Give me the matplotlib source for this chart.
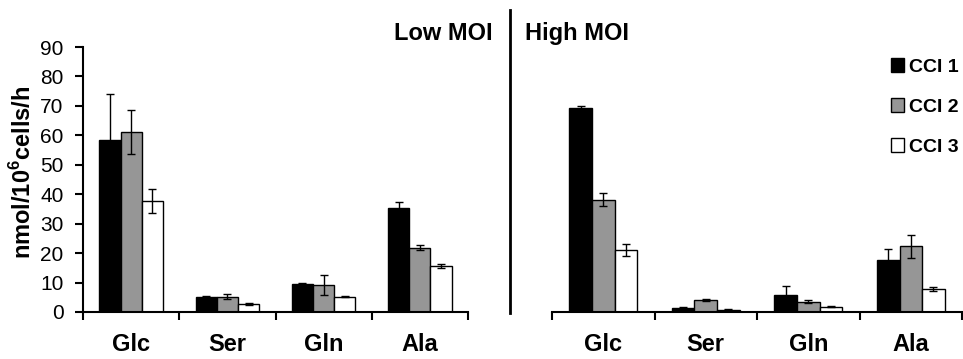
import numpy as np
import matplotlib
matplotlib.use('Agg')
import matplotlib.pyplot as plt
from matplotlib.lines import Line2D
from matplotlib.patches import Patch

plt.rcParams['font.family'] = ['Liberation Sans', 'DejaVu Sans']
plt.rcParams['mathtext.fontset'] = 'custom'
plt.rcParams['mathtext.rm'] = 'Liberation Sans'
plt.rcParams['mathtext.bf'] = 'Liberation Sans:bold'

# DATA
categories = ["Glc", "Ser", "Gln", "Ala"]
series = ["CCI 1", "CCI 2", "CCI 3"]

low_cci1 = [58.3, 5.0, 9.6, 35.4]
low_cci2 = [61.2, 5.2, 9.2, 21.9]
low_cci3 = [37.6, 2.7, 5.2, 15.6]
low_err1 = [15.9, 0.3, 0.2, 1.9]
low_err2 = [7.4, 0.8, 3.5, 0.8]
low_err3 = [4.1, 0.2, 0.2, 0.6]

high_cci1 = [69.2, 1.4, 5.8, 17.6]
high_cci2 = [38.1, 4.0, 3.5, 22.3]
high_cci3 = [21.0, 0.8, 1.8, 7.8]
high_err1 = [0.7, 0.4, 3.0, 3.9]
high_err2 = [2.2, 0.3, 0.45, 4.0]
high_err3 = [2.0, 0.1, 0.1, 0.7]

colors = ["black", "#969696", "white"]

fig = plt.figure(figsize=(9.63, 3.59), dpi=100)
ax1 = fig.add_axes([0.0862, 0.131, 0.3998, 0.738])
ax2 = fig.add_axes([0.5732, 0.131, 0.4258, 0.738])

x = np.arange(len(categories))
w = 0.22


def draw_panel(ax, vals, errs):
    for i, (v, e) in enumerate(zip(vals, errs)):
        ax.bar(x + (i - 1) * w, v, w, color=colors[i], edgecolor="black", linewidth=1.0,
               yerr=e, error_kw=dict(ecolor="black", elinewidth=1.0, capsize=3, capthick=1.0),
               label=series[i], zorder=2)
    ax.set_xlim(-0.5, 3.5)
    ax.set_ylim(0, 90)
    ax.set_xticks(np.arange(-0.5, 4.0, 1.0))
    ax.set_xticklabels([])
    ax.set_xticks(x, minor=True)
    ax.set_xticklabels(categories, minor=True, fontsize=17, fontweight="bold")
    ax.tick_params(axis="x", which="major", direction="out", length=6, width=1.5)
    ax.tick_params(axis="x", which="minor", length=0, pad=15)
    for s in ["top", "right"]:
        ax.spines[s].set_visible(False)
    ax.spines["bottom"].set_linewidth(1.5)


draw_panel(ax1, [low_cci1, low_cci2, low_cci3], [low_err1, low_err2, low_err3])
draw_panel(ax2, [high_cci1, high_cci2, high_cci3], [high_err1, high_err2, high_err3])

ax1.set_yticks(np.arange(0, 91, 10))
ax1.tick_params(axis="y", direction="out", length=6, width=1.5, labelsize=15, pad=8)
ax1.spines["left"].set_linewidth(1.5)

ax2.spines["left"].set_visible(False)
ax2.set_yticks([])

fig.text(0.024, 0.52, r"nmol/10$^{\mathbf{6}}$cells/h", rotation=90, ha="center", va="center",
         fontsize=17, fontweight="bold")

fig.text(0.512, 0.908, "Low MOI", ha="right", va="center", fontsize=17, fontweight="bold")
fig.text(0.545, 0.908, "High MOI", ha="left", va="center", fontsize=17, fontweight="bold")

fig.add_artist(Line2D([0.5296, 0.5296], [0.128, 0.972], color="black", linewidth=2,
                      transform=fig.transFigure))

handles = [Patch(facecolor=c, edgecolor="black", linewidth=1.0) for c in colors]
fig.legend(handles, series, loc="upper left", bbox_to_anchor=(0.925, 0.838), frameon=False,
           handlelength=0.7, handleheight=0.7, handletextpad=0.25, labelspacing=1.15,
           prop=dict(size=14, weight="bold"), borderaxespad=0, borderpad=0)

fig.savefig("out.png", dpi=100)
